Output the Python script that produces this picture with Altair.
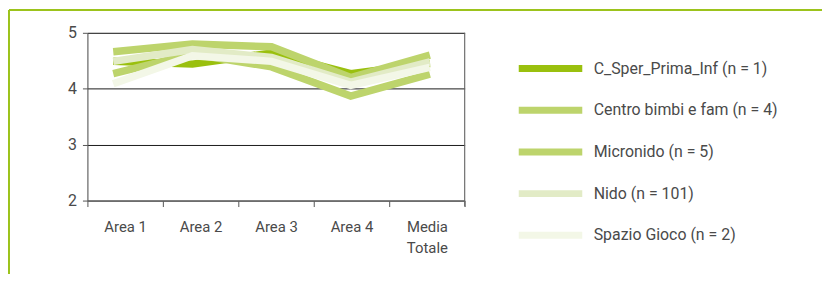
import altair as alt
import pandas as pd

categories = ["Area 1", "Area 2", "Area 3", "Area 4", "Media Totale"]
series = [
    "C_Sper_Prima_Inf (n = 1)",
    "Centro bimbi e fam (n = 4)",
    "Micronido (n = 5)",
    "Nido (n = 101)",
    "Spazio Gioco (n = 2)",
]
c_sper = [4.49, 4.44, 4.64, 4.27, 4.45]
centro = [4.66, 4.80, 4.75, 4.20, 4.60]
micronido = [4.27, 4.62, 4.39, 3.87, 4.26]
nido = [4.49, 4.70, 4.56, 4.12, 4.48]
spazio = [4.09, 4.59, 4.49, 4.06, 4.38]
colors = ["#9ac00e", "#bdd46c", "#bdd46c", "#e2ebc6", "#f3f7e7"]

values = [c_sper, centro, micronido, nido, spazio]
rows = []
for si, (s, vals) in enumerate(zip(series, values)):
    for ci, (c, v) in enumerate(zip(categories, vals)):
        rows.append({"serie": s, "area": c, "idx": ci, "value": v, "order": si})
df = pd.DataFrame(rows)
df_cats = pd.DataFrame({"area": categories})

FONT = "Roboto"
W, H = 380, 169

lines = alt.Chart(df).mark_line(strokeWidth=7.5, strokeJoin="miter", strokeCap="butt").encode(
    x=alt.X("idx:Q", scale=alt.Scale(domain=[-0.326, 4.439], nice=False, zero=False), axis=None),
    y=alt.Y("value:Q", scale=alt.Scale(domain=[2, 5], nice=False, zero=False),
            axis=alt.Axis(values=[2, 3, 4, 5], title=None, grid=True, gridColor="#1a1a1a",
                          gridWidth=1, domainColor="#555", tickColor="#555", tickSize=5,
                          labelPadding=6, labelFontSize=16, labelColor="#4a4a4a",
                          labelFont=FONT)),
    color=alt.Color("serie:N", sort=series,
                    scale=alt.Scale(domain=series, range=colors),
                    legend=alt.Legend(title=None, orient="none", legendX=431, legendY=26,
                                      symbolType="stroke", symbolSize=4096,
                                      symbolStrokeWidth=7, clipHeight=20, rowPadding=22,
                                      labelOffset=8, labelFontSize=16, labelFont=FONT,
                                      labelColor="#4a4a4a", labelLimit=300)),
    order=alt.Order("order:Q"),
    detail="serie:N",
)

xaxis = alt.Chart(df_cats).mark_tick(opacity=0).encode(
    x=alt.X("area:N", sort=categories,
            scale=alt.Scale(type="band", paddingInner=0, paddingOuter=0),
            axis=alt.Axis(title=None, tickBand="extent", labelAngle=0, domainColor="#666",
                          tickColor="#555", tickSize=6, labelPadding=13, labelFontSize=15,
                          labelFont=FONT, labelColor="#4a4a4a", labelLineHeight=21,
                          labelExpr="datum.value == 'Media Totale' ? ['Media', 'Totale'] : datum.label")),
)

frame_top = alt.Chart(pd.DataFrame({"k": [0]})).mark_rule(color="#9cc31c", strokeWidth=2).encode(
    x=alt.value(-79), x2=alt.value(740), y=alt.value(-23))
frame_left = alt.Chart(pd.DataFrame({"k": [0]})).mark_rule(color="#9cc31c", strokeWidth=2).encode(
    x=alt.value(-79), y=alt.value(-23), y2=alt.value(243))
right_edge = alt.Chart(pd.DataFrame({"k": [0]})).mark_rule(color="#666", strokeWidth=1).encode(
    x=alt.value(W), y=alt.value(0), y2=alt.value(H + 6))

chart = alt.layer(frame_top, frame_left, xaxis, lines, right_edge).resolve_scale(x="independent").properties(
    width=W, height=H, padding={"left": 0, "top": 0, "right": 0, "bottom": 0}
).configure_view(stroke=None).configure(background="white")

chart.save("out.html", embed_options={"renderer": "svg", "actions": False})
